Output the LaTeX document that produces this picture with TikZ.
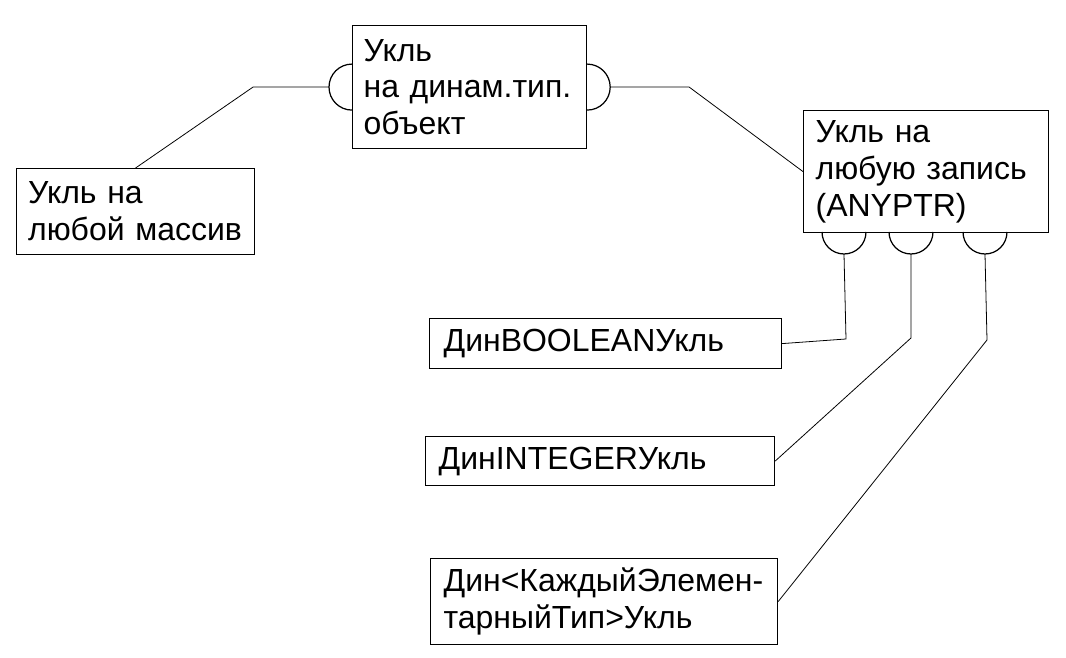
\documentclass[tikz,border=0pt]{standalone}
\usepackage{fontspec}
\setmainfont{Liberation Sans}
\usetikzlibrary{positioning, calc}

\begin{document}
\begin{tikzpicture}[
    x=0.02cm, y=0.02cm,
    box/.style={draw, rectangle, anchor=north west, align=left, inner ysep=0pt, line width=0.7pt, font=\fontsize{18.2}{21}\selectfont},
    cup/.style={draw, line width=0.7pt},
    link/.style={draw, line width=0.45pt}
]
\useasboundingbox (0,0) rectangle (1066,658);

% Boxes
\node[box, minimum width=4.68cm, minimum height=2.46cm, inner xsep=0.22cm, text width=4.24cm] (dyn) at (352,633) {Укль\\на динам.тип.\\объект};
\node[box, minimum width=4.9cm, minimum height=2.44cm, inner xsep=0.24cm, text width=4.42cm] (anyrec) at (803,548) {Укль на\\любую запись\\(ANYPTR)};
\node[box, minimum width=4.76cm, minimum height=1.72cm, inner xsep=0.23cm, text width=4.3cm] (anyarr) at (16,490) {Укль на\\\mbox{любой массив}};
\node[box, minimum width=7.04cm, minimum height=1.0cm, inner xsep=0.28cm, text width=6.48cm] (dbool) at (429,340) {ДинBOOLEANУкль};
\node[box, minimum width=6.98cm, minimum height=0.98cm, inner xsep=0.26cm, text width=6.46cm] (dint) at (425,222) {ДинINTEGERУкль};
\node[box, minimum width=6.94cm, minimum height=1.72cm, inner xsep=0.26cm, text width=6.42cm] (delem) at (430,100) {Дин<КаждыйЭлемен-\\тарныйТип>Укль};

% Cups of dyn
\draw[cup] (dyn.west) ++(0,23) arc[start angle=90, end angle=270, radius=23];
\draw[cup] (dyn.east) ++(0,23) arc[start angle=90, end angle=-90, radius=23];
\path (dyn.west) ++(-23,0) coordinate (Ltip) ++(-76,0) coordinate (Lbend);
\path (dyn.east) ++(23,0) coordinate (Rtip) ++(79,0) coordinate (Rbend);

% Cups of anyrec
\foreach \cx/\nm in {844/c1, 911/c2, 985/c3} {
  \draw[cup] (\cx-22,426) arc[start angle=180, end angle=360, radius=22];
  \coordinate (\nm) at (\cx,404);
}
\coordinate (b1) at (846,319);
\coordinate (b2) at (911,320);
\coordinate (b3) at (987,318);

% Links
\draw[link] (anyarr.north) -- (Lbend) -- (Ltip);
\draw[link] (Rtip) -- (Rbend) -- (anyrec.west);
\draw[link] (c1) -- (b1) -- (dbool.east);
\draw[link] (c2) -- (b2) -- (dint.east);
\draw[link] (c3) -- (b3) -- (delem.east);

\end{tikzpicture}
\end{document}
